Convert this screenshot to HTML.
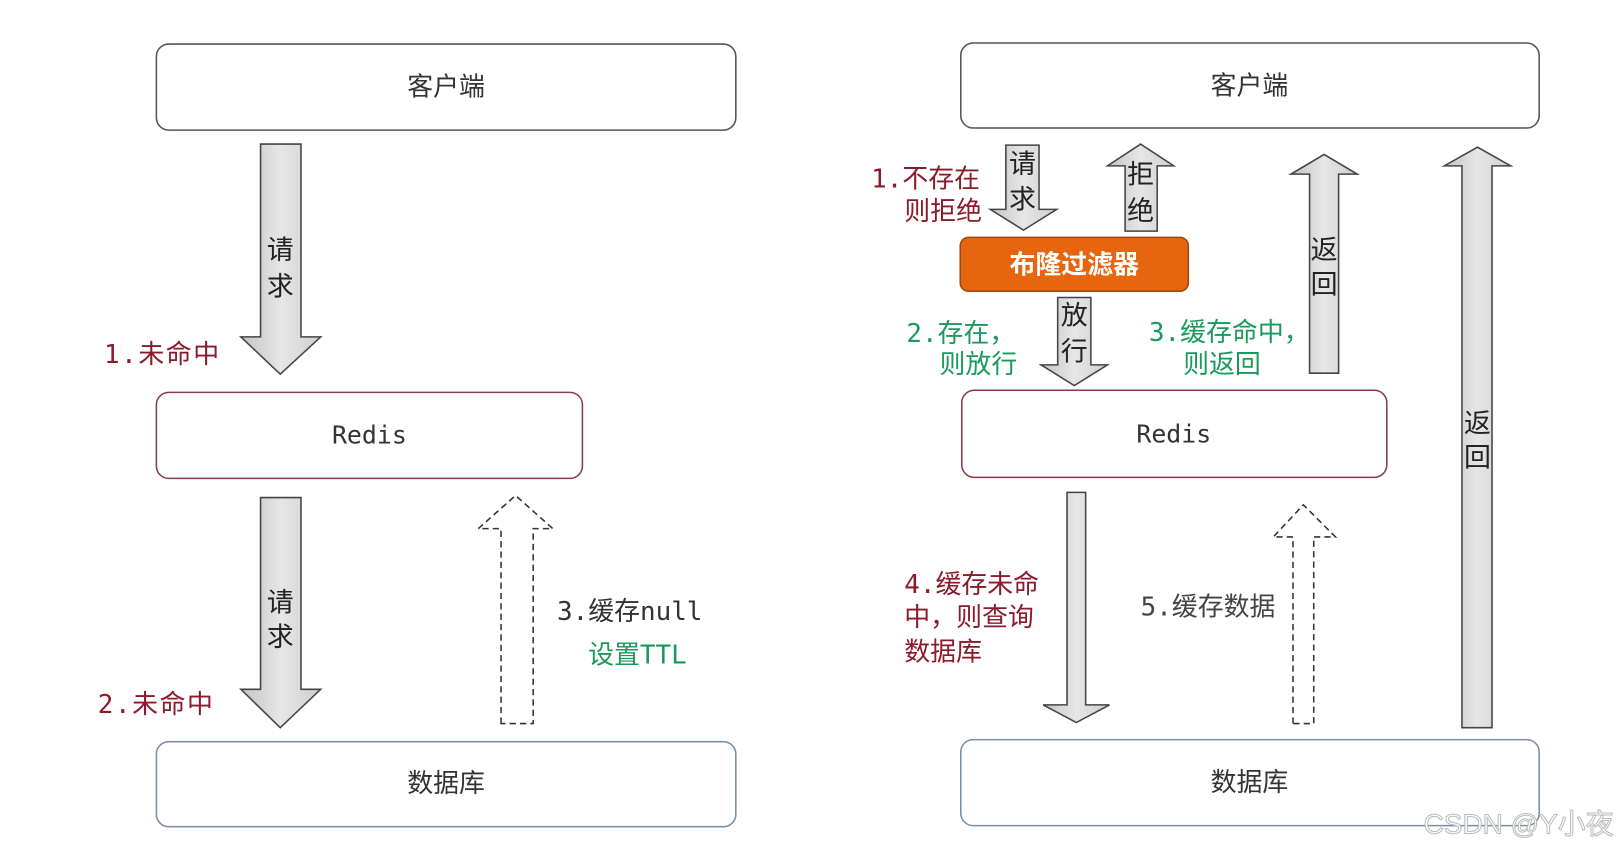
<!DOCTYPE html>
<html><head><meta charset="utf-8"><style>
html,body{margin:0;padding:0;background:#fff;}
svg{display:block;}
text{font-family:"Liberation Sans","Noto Sans CJK SC",sans-serif;}
.m{font-family:"DejaVu Sans Mono","Noto Sans CJK SC",monospace;}
.l{letter-spacing:1.5px;}
</style></head><body>
<svg width="1623" height="850" viewBox="0 0 1565 820" xmlns="http://www.w3.org/2000/svg">
<defs>
<linearGradient id="g" x1="0" y1="0" x2="1" y2="0">
<stop offset="0" stop-color="#c4c4c4"/><stop offset="0.5" stop-color="#e6e6e6"/><stop offset="1" stop-color="#cfcfcf"/>
</linearGradient>
</defs>
<rect width="1565" height="820" fill="#fff"/>
<rect x="150.5" y="42.5" width="559" height="83" rx="12" fill="#fff" stroke="#555" stroke-width="1.5"/>
<text x="430" y="92" font-size="25" text-anchor="middle" fill="#333">客户端</text>
<rect x="150.5" y="378.5" width="411" height="83" rx="12" fill="#fff" stroke="#8a3a4a" stroke-width="1.5"/>
<text x="356" y="428" font-size="24" text-anchor="middle" fill="#333" class="m">Redis</text>
<rect x="150.5" y="715.5" width="559" height="82" rx="12" fill="#fff" stroke="#7a8fa8" stroke-width="1.5"/>
<text x="430" y="764" font-size="25" text-anchor="middle" fill="#333">数据库</text>
<path d="M251 139 H290 V325 H309 L270 361 L232 325 H251 Z" fill="url(#g)" stroke="#444" stroke-width="1.5"/>
<text x="270" y="250" font-size="26" text-anchor="middle" fill="#222">请</text>
<text x="270" y="285" font-size="26" text-anchor="middle" fill="#222">求</text>
<path d="M251 480 H290 V665 H309 L270 702 L232 665 H251 Z" fill="url(#g)" stroke="#444" stroke-width="1.5"/>
<text x="270" y="590" font-size="26" text-anchor="middle" fill="#222">请</text>
<text x="270" y="623" font-size="26" text-anchor="middle" fill="#222">求</text>
<text x="100" y="350" font-size="25" fill="#8b1a2a" class="m l">1.未命中</text>
<text x="94" y="688" font-size="25" fill="#8b1a2a" class="m l">2.未命中</text>
<path d="M483 698 V510 H461 L497 478 L533 510 H514 V698 Z" fill="none" stroke="#333" stroke-width="1.5" stroke-dasharray="6,4"/>
<text x="537" y="598" font-size="25" fill="#333" class="m">3.缓存null</text>
<text x="567" y="640" font-size="25" fill="#1a9a5a" class="m">设置TTL</text>
<rect x="926.5" y="41.5" width="558" height="82" rx="12" fill="#fff" stroke="#555" stroke-width="1.5"/>
<text x="1205" y="91" font-size="25" text-anchor="middle" fill="#333">客户端</text>
<rect x="927.5" y="376.5" width="410" height="84" rx="12" fill="#fff" stroke="#8a3a4a" stroke-width="1.5"/>
<text x="1132" y="427" font-size="24" text-anchor="middle" fill="#333" class="m">Redis</text>
<rect x="926.5" y="713.5" width="558" height="83" rx="12" fill="#fff" stroke="#7a8fa8" stroke-width="1.5"/>
<text x="1205" y="763" font-size="25" text-anchor="middle" fill="#333">数据库</text>
<rect x="926" y="229" width="220" height="52" rx="8" fill="#e8650f" stroke="#9a4a10" stroke-width="1.5"/>
<text x="1036" y="264" font-size="25" text-anchor="middle" fill="#fff" font-weight="bold">布隆过滤器</text>
<path d="M970 140 H1002 V202 H1019 L987 222 L955 202 H970 Z" fill="url(#g)" stroke="#444" stroke-width="1.5"/>
<text x="986" y="167" font-size="26" text-anchor="middle" fill="#222">请</text>
<text x="986" y="201" font-size="26" text-anchor="middle" fill="#222">求</text>
<path d="M1085 223 V160 H1068 L1100 139 L1132 160 H1116 V223 Z" fill="url(#g)" stroke="#444" stroke-width="1.5"/>
<text x="1100" y="177" font-size="26" text-anchor="middle" fill="#222">拒</text>
<text x="1100" y="212" font-size="26" text-anchor="middle" fill="#222">绝</text>
<path d="M1020 287 H1052 V352 H1068 L1036 372 L1004 352 H1020 Z" fill="url(#g)" stroke="#444" stroke-width="1.5"/>
<text x="1036" y="313" font-size="26" text-anchor="middle" fill="#222">放</text>
<text x="1036" y="348" font-size="26" text-anchor="middle" fill="#222">行</text>
<path d="M1263 360 V168 H1245 L1277 149 L1309 168 H1291 V360 Z" fill="url(#g)" stroke="#444" stroke-width="1.5"/>
<text x="1277" y="250" font-size="26" text-anchor="middle" fill="#222">返</text>
<text x="1277" y="283" font-size="26" text-anchor="middle" fill="#222">回</text>
<path d="M1410 702 V160 H1393 L1425 142 L1457 160 H1439 V702 Z" fill="url(#g)" stroke="#444" stroke-width="1.5"/>
<text x="1425" y="417" font-size="26" text-anchor="middle" fill="#222">返</text>
<text x="1425" y="450" font-size="26" text-anchor="middle" fill="#222">回</text>
<path d="M1029 475 H1047 V680 H1070 L1038 697 L1006 680 H1029 Z" fill="url(#g)" stroke="#444" stroke-width="1.5"/>
<path d="M1247 698 V518 H1228 L1257 487 L1288 518 H1267 V698 Z" fill="none" stroke="#333" stroke-width="1.5" stroke-dasharray="6,4"/>
<text x="840" y="181" font-size="25" fill="#8b1a2a" class="m">1.不存在</text>
<text x="872" y="212" font-size="25" fill="#8b1a2a">则拒绝</text>
<text x="874" y="330" font-size="25" fill="#1a9a5a" class="m">2.存在，</text>
<text x="906" y="360" font-size="25" fill="#1a9a5a">则放行</text>
<text x="1108" y="329" font-size="25" fill="#1a9a5a" class="m">3.缓存命中，</text>
<text x="1141" y="360" font-size="25" fill="#1a9a5a">则返回</text>
<text x="872" y="572" font-size="25" fill="#8b1a2a" class="m">4.缓存未命</text>
<text x="872" y="604" font-size="25" fill="#8b1a2a">中，则查询</text>
<text x="872" y="637" font-size="25" fill="#8b1a2a">数据库</text>
<text x="1100" y="594" font-size="25" fill="#444" class="m">5.缓存数据</text>
<text x="1373" y="804" font-size="27" fill="#fff" stroke="#bbb" stroke-width="1">CSDN @Y小夜</text>
</svg>
</body></html>
